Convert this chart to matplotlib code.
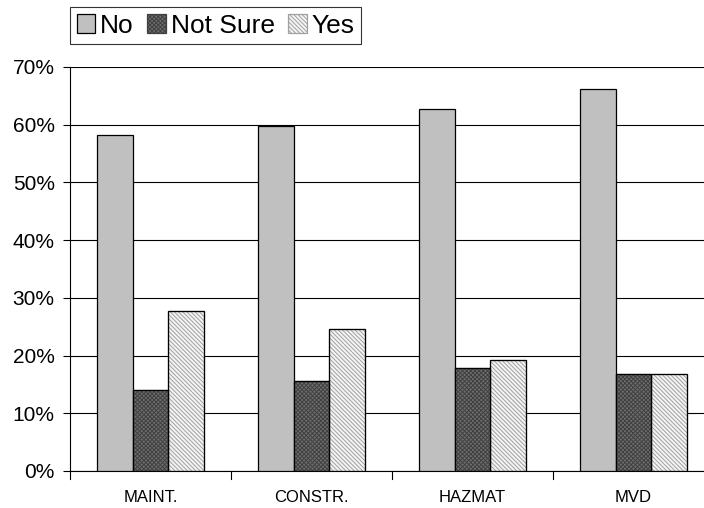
import matplotlib
matplotlib.use("Agg")
import matplotlib.pyplot as plt
import numpy as np

plt.rcParams['font.family'] = ['Liberation Sans', 'DejaVu Sans']
plt.rcParams['hatch.linewidth'] = 0.7

categories = ["MAINT.", "CONSTR.", "HAZMAT", "MVD"]
series_names = ["No", "Not Sure", "Yes"]
no_vals = [58.2, 59.7, 62.8, 66.2]
notsure_vals = [14.0, 15.6, 17.9, 16.8]
yes_vals = [27.8, 24.6, 19.2, 16.8]
y_ticks = [0, 10, 20, 30, 40, 50, 60, 70]
y_tick_labels = ["0%", "10%", "20%", "30%", "40%", "50%", "60%", "70%"]

fig = plt.figure(figsize=(7.04, 5.08), dpi=100)
ax = fig.add_axes([70/704, (508-471)/508, 644/704, (471-67)/508])

x = np.arange(len(categories))
w = 0.222
styles = [
    dict(facecolor='#c0c0c0', hatch=None, hc=None),
    dict(facecolor='#6e6e6e', hatch='xxxxxxxx', hc='#404040'),
    dict(facecolor='#f4f4f4', hatch='\\\\\\\\\\\\\\\\', hc='#a0a0a0'),
]
bars = []
for i, (vals, st) in enumerate(zip([no_vals, notsure_vals, yes_vals], styles)):
    b = ax.bar(x + (i - 1) * w, vals, w, facecolor=st['facecolor'], edgecolor='black',
               linewidth=0.9, label=series_names[i], zorder=3)
    if st['hatch']:
        for r in b:
            r.set_hatch(st['hatch'])
            r.set_edgecolor(st['hc'])
        ax.bar(x + (i - 1) * w, vals, w, facecolor='none', edgecolor='black', linewidth=0.9, zorder=4)
    bars.append(b)

ax.set_ylim(0, 70)
ax.set_xlim(-0.5, 3.5)
ax.set_yticks(y_ticks)
ax.set_yticklabels(y_tick_labels, fontsize=15)
ax.yaxis.grid(True, color='black', linewidth=0.8, zorder=0)
ax.set_axisbelow(True)
ax.set_xticks(x)
ax.set_xticklabels(categories, fontsize=12)
ax.tick_params(axis='x', length=0, pad=14)
for bnd in np.arange(-0.5, 4.0, 1.0):
    ax.plot([bnd, bnd], [0, -1.3], color='black', linewidth=0.8, clip_on=False)
ax.tick_params(axis='y', length=5, width=0.8, direction='out', pad=6)
for s in ['top', 'right']:
    ax.spines[s].set_visible(False)
ax.spines['left'].set_linewidth(0.8)
ax.spines['bottom'].set_linewidth(0.8)

leg = fig.legend(handles=bars, labels=series_names, loc='upper left',
                 bbox_to_anchor=(70/704, 1 - 7/508), ncol=3, fontsize=19,
                 frameon=True, fancybox=False, edgecolor='black',
                 handlelength=0.7, handleheight=0.7, handletextpad=0.2,
                 columnspacing=0.5, borderpad=0.25, borderaxespad=0)
leg.get_frame().set_linewidth(0.8)

fig.savefig("out.png", dpi=100)
